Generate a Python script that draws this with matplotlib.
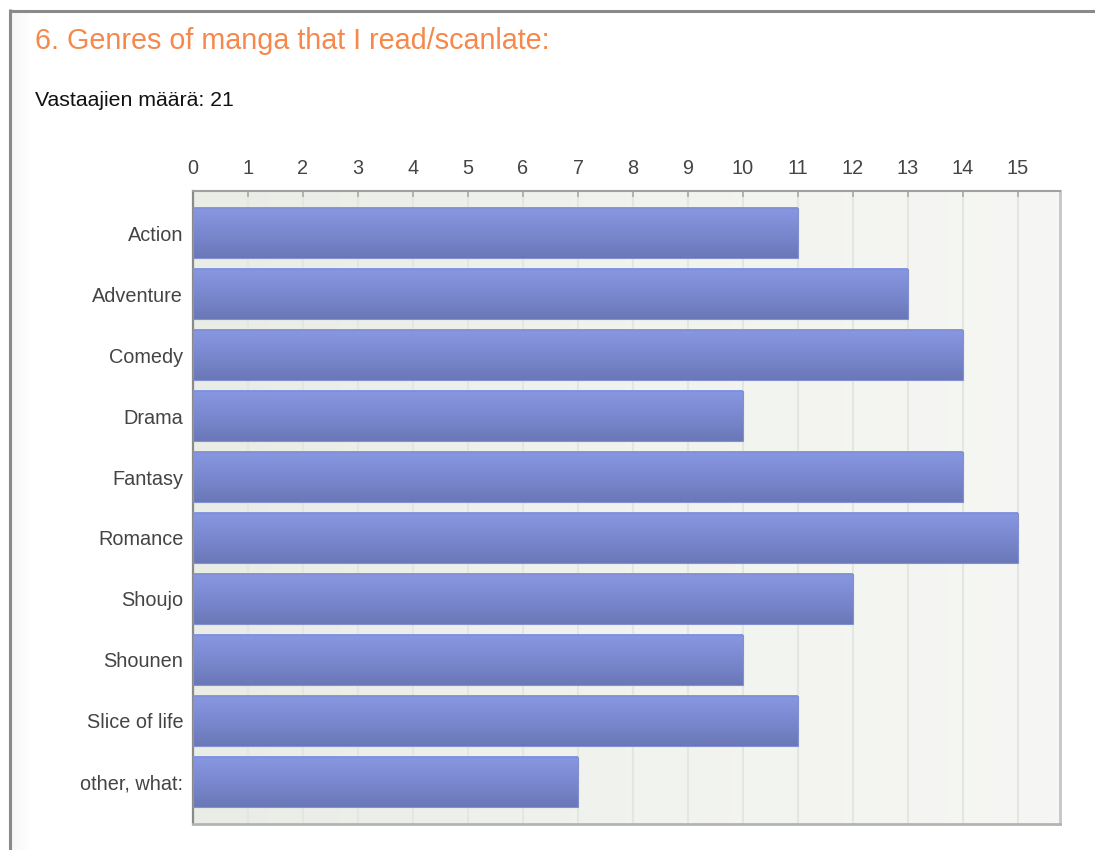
import numpy as np
import matplotlib
matplotlib.use("Agg")
import matplotlib.pyplot as plt
from matplotlib.lines import Line2D
from matplotlib.colors import LinearSegmentedColormap

plt.rcParams['font.family'] = ['Liberation Sans', 'DejaVu Sans']

# Survey results
title = "6. Genres of manga that I read/scanlate:"
respondents = "Vastaajien määrä: 21"
genres = ["Action", "Adventure", "Comedy", "Drama", "Fantasy", "Romance",
          "Shoujo", "Shounen", "Slice of life", "other, what:"]
counts = [11, 13, 14, 10, 14, 15, 12, 10, 11, 7]
x_ticks = list(range(0, 16))

W, H = 1095, 850
fig = plt.figure(figsize=(W / 100, H / 100), dpi=100)
fig.patch.set_facecolor('white')

# Page frame with a soft inner shadow on the left
shade = fig.add_axes([10 / W, 0, 22 / W, 1 - 11 / H])
shade.imshow(np.linspace(0, 1, 64)[None, :], aspect='auto',
             cmap=LinearSegmentedColormap.from_list('sh', ['#f6f6f6', '#ffffff']),
             extent=[0, 1, 0, 1])
shade.set_axis_off()
fig.add_artist(Line2D([9.5 / W, 9.5 / W], [0, 1 - 9 / H], transform=fig.transFigure,
                      color='#8a8a8a', lw=2.2, solid_capstyle='butt'))
fig.add_artist(Line2D([8.5 / W, 1], [1 - 10.5 / H, 1 - 10.5 / H], transform=fig.transFigure,
                      color='#8a8a8a', lw=2.2, solid_capstyle='butt'))

fig.text(35 / W, 1 - 41 / H, title, color='#F5884A', fontsize=20.7, va='center', ha='left')
fig.text(35 / W, 1 - 101 / H, respondents, color='#111111', fontsize=15.3, va='center', ha='left')

ax = fig.add_axes([193 / W, 1 - 824 / H, 867 / W, 633 / H])
xmax = 867 / 55
n = len(genres)
ypos = np.arange(n)
ylo, yhi = -0.69, n - 1 + 0.69

# Plot-area background: soft horizontal gradient
bg_cmap = LinearSegmentedColormap.from_list('bg', ['#e9ede6', '#f1f3ee', '#f6f7f4'])
ax.imshow(np.linspace(0, 1, 256)[None, :], extent=[0, xmax, yhi, ylo],
          aspect='auto', cmap=bg_cmap, zorder=0, interpolation='bilinear')

bar_cmap = LinearSegmentedColormap.from_list('bar', ['#8898e2', '#7a88cf', '#6a78b8'])
bars = ax.barh(ypos, counts, height=0.82, color='none', edgecolor='#8290d2',
               linewidth=0.8, zorder=4)
grad = np.linspace(0, 1, 128)[:, None]
for b in bars:
    x0, y0, w, h = b.get_x(), b.get_y(), b.get_width(), b.get_height()
    ax.imshow(grad, extent=[x0, x0 + w, y0 + h, y0], aspect='auto',
              cmap=bar_cmap, zorder=3, interpolation='bilinear')

ax.set_xlim(0, xmax)
ax.set_ylim(yhi, ylo)

ax.set_axisbelow(True)
ax.xaxis.grid(True, color='#e4e6e2', linewidth=1.5, zorder=1)
ax.yaxis.grid(False)

ax.xaxis.tick_top()
ax.set_xticks(x_ticks)
ax.set_xticklabels([str(t) for t in x_ticks])
ax.tick_params(axis='x', direction='in', length=4, width=1.2, color='#a8a8a8',
               labelsize=14.3, labelcolor='#444444', pad=9)
ax.set_yticks(ypos)
ax.set_yticklabels(genres)
ax.tick_params(axis='y', length=0, labelsize=14.3, labelcolor='#444444', pad=7)

ax.spines['top'].set_color('#a0a0a0')
ax.spines['top'].set_linewidth(1.5)
ax.spines['left'].set_color('#8a8a8a')
ax.spines['left'].set_linewidth(1.6)
ax.spines['bottom'].set_color('#b4b4b4')
ax.spines['bottom'].set_linewidth(2.0)
ax.spines['right'].set_color('#c6c6c6')
ax.spines['right'].set_linewidth(2.0)

fig.savefig('out.png', dpi=100, facecolor='white')
